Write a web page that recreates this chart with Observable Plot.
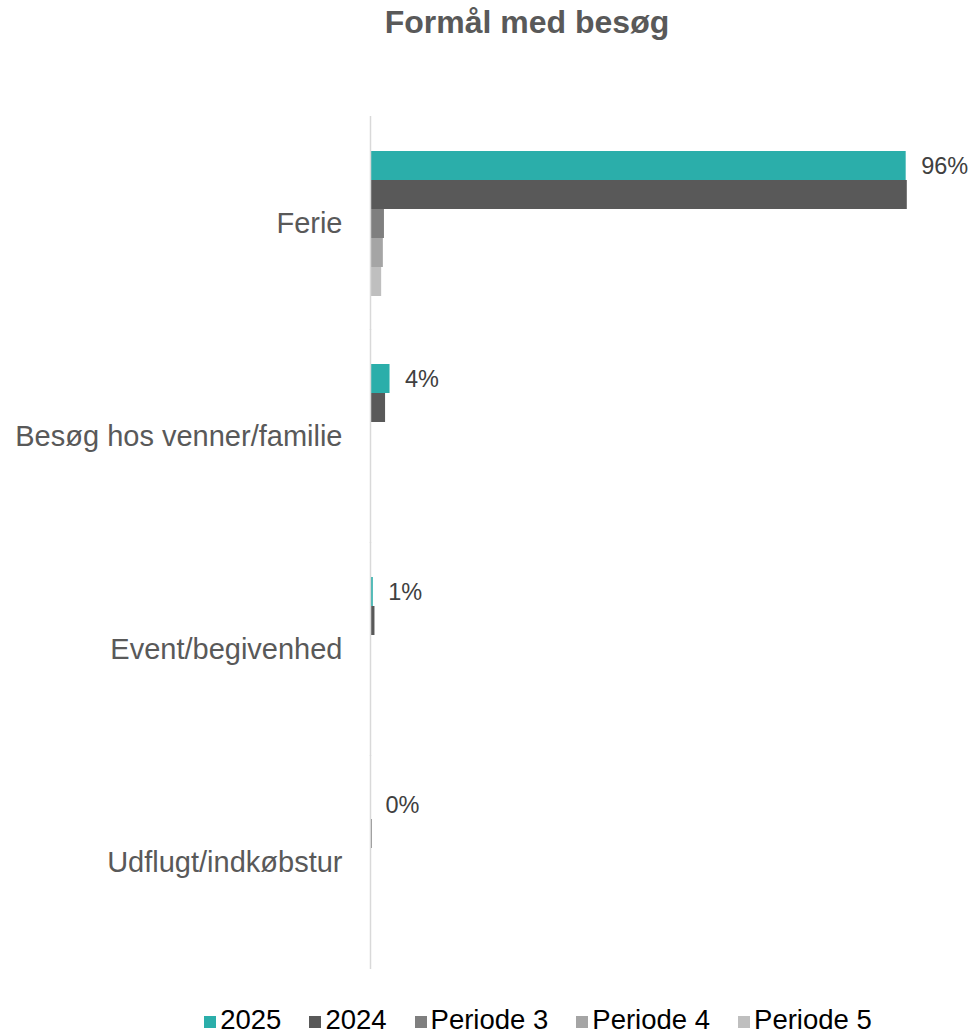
<!DOCTYPE html>
<html>
<head>
<meta charset="utf-8">
<script src="https://cdn.jsdelivr.net/npm/d3@7"></script>
<script src="https://cdn.jsdelivr.net/npm/@observablehq/plot@0.6"></script>
<style>
  html, body { margin: 0; padding: 0; background: #fff; }
  body { width: 974px; height: 1034px; position: relative; overflow: hidden; font-family: "Liberation Sans", Arial, sans-serif; }
  #title { position: absolute; left: 80px; right: 0; top: 6px; text-align: center; font-size: 32px; line-height: 32px; font-weight: bold; color: #595959; }
  #chart { position: absolute; left: 0; top: 50px; }
  #legend { position: absolute; left: 102px; right: 0; top: 1006px; display: flex; justify-content: center; gap: 28px; font-size: 27.5px; line-height: 28px; color: #000; }
  .item { display: flex; align-items: center; }
  .sw { width: 12px; height: 12px; margin-right: 4px; margin-top: 4px; }
</style>
</head>
<body>
<div id="title">Formål med besøg</div>
<div id="chart"></div>
<div id="legend"></div>
<script>
const categories = ["Ferie", "Besøg hos venner/familie", "Event/begivenhed", "Udflugt/indkøbstur"];
const series = ["2025", "2024", "Periode 3", "Periode 4", "Periode 5"];
const values2025 = [96, 3.5, 0.5, 0];
const values2024 = [96.2, 2.7, 0.8, 0.3];
const valuesP3 = [2.5, 0, 0, 0];
const valuesP4 = [2.3, 0, 0, 0];
const valuesP5 = [2.0, 0, 0, 0];
const labels2025 = ["96%", "4%", "1%", "0%"];
const colors = ["#2BAEAA", "#595959", "#7F7F7F", "#A5A5A5", "#BFBFBF"];

const seriesValues = [values2025, values2024, valuesP3, valuesP4, valuesP5];
const data = [];
categories.forEach((c, i) => {
  series.forEach((s, j) => {
    data.push({category: c, series: s, value: seriesValues[j][i]});
  });
});
const labelData = categories.map((c, i) => ({category: c, series: series[0], value: values2025[i], label: labels2025[i]}));

const chart = Plot.plot({
  width: 974,
  height: 950,
  marginLeft: 370,
  marginRight: 46,
  marginTop: 66,
  marginBottom: 30,
  style: {fontFamily: "'Liberation Sans', Arial, sans-serif", background: "transparent"},
  x: {domain: [0, 100], axis: null},
  y: {domain: series, axis: null, padding: 0},
  fy: {domain: categories, paddingInner: 0.305, paddingOuter: 0.1525, axis: null},
  color: {domain: series, range: colors},
  marks: [
    Plot.barX(data, {x: "value", y: "series", fy: "category", fill: "series"}),
    Plot.ruleX([0], {stroke: "#D9D9D9", strokeWidth: 1.5, insetTop: -33, insetBottom: -33}),
    Plot.text(labelData, {x: "value", y: "series", fy: "category", text: "label", dx: 15, textAnchor: "start", fontSize: 23.5, fill: "#404040"}),
    Plot.axisFy({anchor: "left", tickSize: 0, tickPadding: 28, fontSize: 29, color: "#595959", label: null})
  ]
});
document.getElementById("chart").appendChild(chart);

const legend = document.getElementById("legend");
series.forEach((s, j) => {
  const item = document.createElement("div");
  item.className = "item";
  const sw = document.createElement("span");
  sw.className = "sw";
  sw.style.background = colors[j];
  const t = document.createElement("span");
  t.textContent = s;
  item.appendChild(sw);
  item.appendChild(t);
  legend.appendChild(item);
});
</script>
</body>
</html>
